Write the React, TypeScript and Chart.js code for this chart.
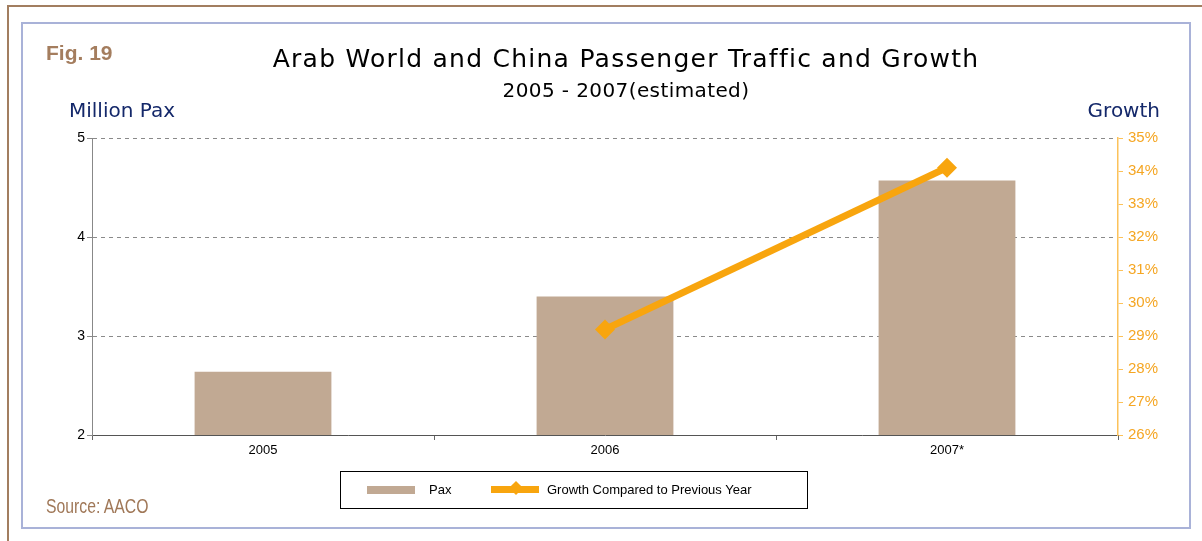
import React, { useEffect, useRef } from "react";
import { Chart, registerables } from "chart.js";

Chart.register(...registerables);

const categories = ["2005", "2006", "2007*"];
const paxValues = [2.64, 3.4, 4.57];
const growthValues: (number | null)[] = [null, 29.2, 34.1];
const paxMin = 2;
const paxMax = 5;
const growthMin = 26;
const growthMax = 35;

const BAR = "#c1a993";
const ORANGE = "#f8a50e";

export default function App() {
  const ref = useRef<HTMLCanvasElement | null>(null);
  useEffect(() => {
    document.body.style.margin = "0";
    const ctx = ref.current!;
    const chart = new Chart(ctx, {
      type: "bar",
      data: {
        labels: categories,
        datasets: [
          {
            type: "line",
            label: "Growth Compared to Previous Year",
            data: growthValues,
            yAxisID: "y1",
            borderColor: ORANGE,
            backgroundColor: ORANGE,
            borderWidth: 7,
            pointStyle: "rectRot",
            pointRadius: 10,
            pointBorderWidth: 0,
            pointBackgroundColor: ORANGE,
            spanGaps: false,
            order: 0,
          } as any,
          {
            type: "bar",
            label: "Pax",
            data: paxValues,
            yAxisID: "y",
            backgroundColor: BAR,
            barPercentage: 0.4,
            categoryPercentage: 1,
            order: 1,
          },
        ],
      },
      options: {
        animation: false,
        responsive: false,
        layout: { padding: { top: 138, left: 0, right: 0, bottom: 0 } },
        plugins: { legend: { display: false }, tooltip: { enabled: false } },
        scales: {
          x: {
            afterFit: (s: any) => {
              s.height = 106;
            },
            grid: {
              offset: true,
              drawOnChartArea: false,
              tickLength: 5,
              tickColor: "#666",
            },
            border: { color: "#555", width: 1 },
            ticks: { color: "#000", font: { family: "Arial, 'Liberation Sans'", size: 13 }, padding: 3 },
          },
          y: {
            position: "left",
            min: paxMin,
            max: paxMax,
            afterFit: (s: any) => {
              s.width = 92;
            },
            ticks: {
              stepSize: 1,
              color: "#000",
              font: { family: "Arial, 'Liberation Sans'", size: 14 },
              padding: 2,
            },
            grid: {
              color: (c: any) => (c.tick && c.tick.value === paxMin ? "rgba(0,0,0,0)" : "#8a8a8a"),
              tickColor: "#888",
              tickLength: 5,
              lineWidth: 1,
            },
            border: { color: "#888", width: 1, dash: [4, 4] },
          },
          y1: {
            position: "right",
            min: growthMin,
            max: growthMax,
            afterFit: (s: any) => {
              s.width = 84;
            },
            ticks: {
              stepSize: 1,
              color: "#f5a623",
              font: { family: "Arial, 'Liberation Sans'", size: 15 },
              padding: 5,
              callback: (v: any) => v + "%",
            },
            grid: { drawOnChartArea: false, tickColor: "#fcc25a", tickLength: 5 },
            border: { color: "#fcc25a", width: 1.5 },
          },
        },
      },
    });
    return () => chart.destroy();
  }, []);

  const abs = (s: React.CSSProperties): React.CSSProperties => ({ position: "absolute", whiteSpace: "nowrap", ...s });
  const geo = "'DejaVu Sans', 'Lato', sans-serif";

  return (
    <div style={{ position: "absolute", left: 0, top: 0, width: 1202, height: 541, background: "#fff", overflow: "hidden" }}>
      <div style={abs({ left: 7, top: 5, width: 1300, height: 700, border: "2px solid #a27e60", boxSizing: "border-box" })} />
      <div style={abs({ left: 21, top: 22, width: 1170, height: 507, border: "2px solid #a9b2d8", boxSizing: "border-box" })} />
      <canvas ref={ref} width={1202} height={541} style={{ position: "absolute", left: 0, top: 0 }} />
      <div style={abs({ left: 46, top: 41, fontFamily: "Arial, 'Liberation Sans'", fontWeight: "bold", fontSize: 21, color: "#a47d5e" })}>Fig. 19</div>
      <div style={abs({ left: 0, width: 1252, top: 44, textAlign: "center", fontFamily: geo, fontSize: 25, letterSpacing: 1.25, color: "#000" })}>
        Arab World and China Passenger Traffic and Growth
      </div>
      <div style={abs({ left: 0, width: 1252, top: 78, textAlign: "center", fontFamily: geo, fontSize: 20, letterSpacing: 0.4, color: "#000" })}>
        2005 - 2007(estimated)
      </div>
      <div style={abs({ left: 69, top: 98, fontFamily: geo, fontSize: 20, color: "#14286a" })}>Million Pax</div>
      <div style={abs({ right: 42, top: 98, fontFamily: geo, fontSize: 20, color: "#14286a" })}>Growth</div>
      <div style={abs({ left: 46, top: 494, fontFamily: "Arial, 'Liberation Sans'", fontSize: 21, color: "#a07858", transform: "scaleX(0.75)", transformOrigin: "left top" })}>
        Source: AACO
      </div>
      <div style={abs({ left: 340, top: 471, width: 468, height: 38, border: "1px solid #000", boxSizing: "border-box", fontFamily: "Arial, 'Liberation Sans'", fontSize: 13, color: "#000" })}>
        <div style={abs({ left: 26, top: 14, width: 48, height: 8, background: BAR })} />
        <div style={abs({ left: 88, top: 10 })}>Pax</div>
        <div style={abs({ left: 150, top: 14, width: 48, height: 7, background: ORANGE })} />
        <div style={abs({ left: 170, top: 11, width: 10, height: 10, background: ORANGE, transform: "rotate(45deg)" })} />
        <div style={abs({ left: 206, top: 10 })}>Growth Compared to Previous Year</div>
      </div>
    </div>
  );
}
